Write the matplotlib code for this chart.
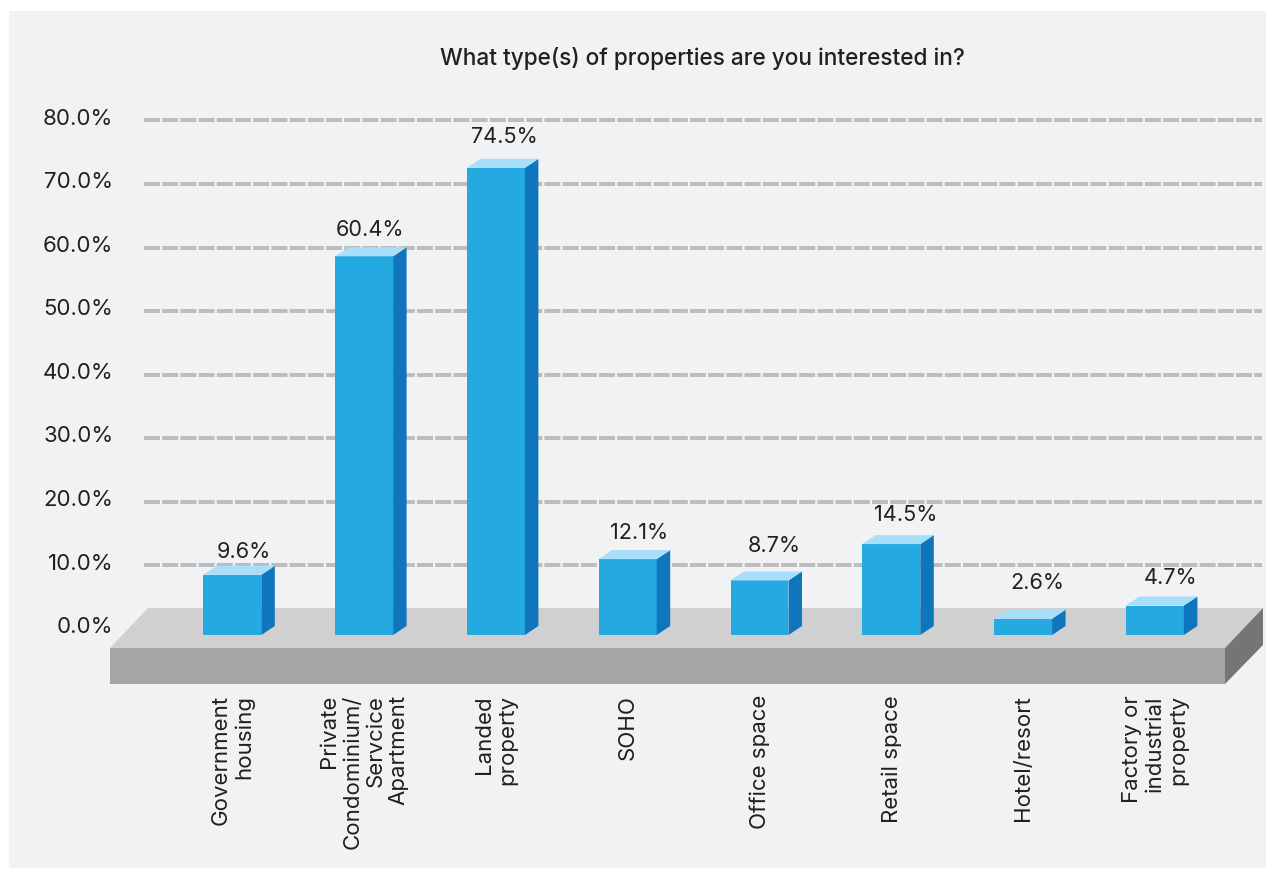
import matplotlib
matplotlib.use("Agg")
import matplotlib.pyplot as plt
from matplotlib.patches import Polygon, Rectangle
from matplotlib.transforms import Affine2D, ScaledTranslation

# Survey results
categories = [
    "Government\nhousing",
    "Private\nCondominium/\nServcice\nApartment",
    "Landed\nproperty",
    "SOHO",
    "Office space",
    "Retail space",
    "Hotel/resort",
    "Factory or\nindustrial\nproperty",
]
shares = [9.6, 60.4, 74.5, 12.1, 8.7, 14.5, 2.6, 4.7]
axis_ticks = [0, 10, 20, 30, 40, 50, 60, 70, 80]
title = "What type(s) of properties are you interested in?"

# Small per-label offsets (pixels) that keep value labels clear of the gridlines
label_dx = [10.7, 5, 7, 10, 13.5, 13.7, 13, 15]
label_dy = [24, 27, 32, 27, 35, 30, 37, 29]

W, H = 1266, 870
INK = "#231F20"
FACE, TOP, SIDE = "#25A9E1", "#A7DFFA", "#0F75BC"
FONT_SIZE = 16
plt.rcParams["font.family"] = ["Inter", "DejaVu Sans"]

fig = plt.figure(figsize=(W / 100, H / 100), dpi=100, facecolor="white")
# Pixel coordinates with the origin at the top left, used for page furniture
page = Affine2D().scale(1 / W, -1 / H).translate(0, 1) + fig.transFigure


def axes_from_px(left, right, top, bottom, **kw):
    return fig.add_axes([left / W, 1 - bottom / H, (right - left) / W, (bottom - top) / H], **kw)


fig.add_artist(Rectangle((9, 12), W - 9, 857, transform=page, fc="#F1F2F4", ec="none", zorder=-5))

# Back wall: value axis with dashed gridlines
wall = axes_from_px(144, 1262, 121.4, 630, zorder=1)
wall.patch.set_visible(False)
wall.set_xlim(0, 1)
wall.set_ylim(0, 80)
wall.set_xticks([])
wall.set_yticks(axis_ticks)
wall.set_yticklabels([f"{t:.1f}%" for t in axis_ticks], fontsize=FONT_SIZE, color=INK)
wall.tick_params(axis="y", length=0, pad=22)
wall.grid(axis="y", color="#BDBDBD", linewidth=2.88, linestyle=(0, (4, 0.55)),
          dash_capstyle="butt", clip_on=False)
wall.set_axisbelow(True)
for side in wall.spines.values():
    side.set_visible(False)
shift = ScaledTranslation(0, 3.5 / 72, fig.dpi_scale_trans)
for lab in wall.get_yticklabels():
    lab.set_transform(lab.get_transform() + shift)

# Floor slab
fig.add_artist(Polygon([(110, 649), (148, 609), (1263, 609), (1225, 649)], transform=page,
                       fc="#D0D0D0", ec="none", zorder=2))
fig.add_artist(Rectangle((110, 649), 1115, 36, transform=page, fc="#A5A5A5", ec="none", zorder=2))
fig.add_artist(Polygon([(1225, 649), (1263, 609), (1263, 646), (1225, 685)], transform=page,
                       fc="#757575", ec="none", zorder=2))

# Extruded bars: the front face comes from ax.bar, top and side follow the same values
ax = axes_from_px(166.4, 1220.8, 100, 636, zorder=3)
ax.patch.set_visible(False)
ax.set_xlim(-0.5, 7.5)
ax.set_ylim(0, 536 / 6.27)
xs = list(range(len(categories)))
bar_w = 0.44
dx, dy = 13.5 / 131.8, 9 / 6.27
ax.bar(xs, shares, width=bar_w, color=FACE, linewidth=0, zorder=3)
for x, v in zip(xs, shares):
    r = x + bar_w / 2
    l = x - bar_w / 2
    ax.add_patch(Polygon([(r, 0), (r + dx, dy), (r + dx, v + dy), (r, v)], fc=SIDE, ec="none",
                         zorder=3, clip_on=False))
    ax.add_patch(Polygon([(l, v), (l + dx, v + dy), (r + dx, v + dy), (r, v)], fc=TOP, ec="none",
                         zorder=3, clip_on=False))

for x, v, ox, oy in zip(xs, shares, label_dx, label_dy):
    ax.annotate(f"{v:.1f}%", (x, v), xytext=((ox + 1) * 0.72, oy * 0.72), textcoords="offset points",
                ha="center", va="center", fontsize=FONT_SIZE - 0.4, color=INK, annotation_clip=False)

ax.set_yticks([])
ax.set_xticks(xs)
ax.set_xticklabels(categories, rotation=90, ha="center", va="top", multialignment="right",
                   fontsize=FONT_SIZE, color=INK, linespacing=1.2)
ax.tick_params(axis="x", length=0, pad=59 * 0.72)
for side in ax.spines.values():
    side.set_visible(False)

fig.text(702 / W, 1 - 58.5 / H, title, ha="center", va="center", fontsize=FONT_SIZE + 0.3, color=INK,
         fontweight="medium")

fig.savefig("out.png", dpi=100, facecolor=fig.get_facecolor())
